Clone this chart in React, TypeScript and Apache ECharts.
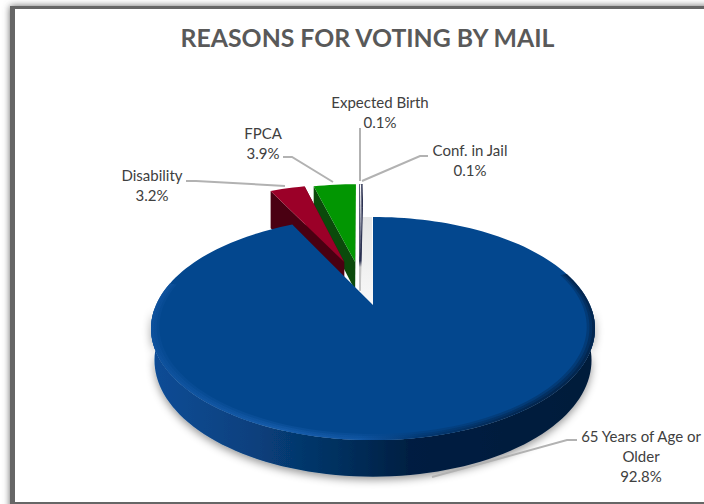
import React, { useEffect, useRef } from "react";
import * as echarts from "echarts";

const TITLE = "REASONS FOR VOTING BY MAIL";
const categories = ["65 Years of Age or Older", "Disability", "FPCA", "Expected Birth", "Conf. in Jail"];
const percents = [92.8, 3.2, 3.9, 0.1, 0.1];

// slice styling, by category order
const topColors = ["#03478e", "#9b0028", "#029602", "#ffffff", "#ffffff"];
const wallColors = ["#021f42", "#4a0012", "#0b4a0b", "#2a3050", "#2a3050"];
const explodeU = [0, -0.145, -0.09, -0.066, -0.064];
const explodeV = [0, 0.44, 0.44, 0.44, 0.44];
const sliceRadius = [1, 1.05, 1.05, 1.05, 1.05];
const wallOuterStretch = [1, 1.55, 1, 1, 1];

// perspective of the disc
const CX = 373, CY = 305, RX = 217, RY = 106.6, K = 0.211, H = 31;
const project = (u: number, v: number, z = 0): number[] => {
  const d = 1 + K * v;
  return [CX + (RX * u) / d, CY - (RY * v - z) / d];
};
const DEG = Math.PI / 180;
const total = percents.reduce((a, b) => a + b, 0);
const starts: number[] = [];
percents.reduce((acc, p, i) => {
  starts[i] = (acc / total) * 360;
  return acc + p;
}, 0);

const arc = (from: number, to: number, r: number, eu: number, ev: number, z = 0) => {
  const steps = Math.max(2, Math.ceil(Math.abs(to - from) / 2));
  const pts: number[][] = [];
  for (let i = 0; i <= steps; i++) {
    const a = (from + ((to - from) * i) / steps) * DEG;
    pts.push(project(eu + r * Math.sin(a), ev + r * Math.cos(a), z));
  }
  return pts;
};

const labelSpecs = [
  { text: "65 Years of Age or\nOlder\n92.8%", x: 641, y: 456 },
  { text: "Disability\n3.2%", x: 152, y: 185 },
  { text: "FPCA\n3.9%", x: 263, y: 143 },
  { text: "Expected Birth\n0.1%", x: 380, y: 112 },
  { text: "Conf. in Jail\n0.1%", x: 470, y: 160 },
];
const leaders = [
  [[577, 440], [567, 440], [432, 477]],
  [[186, 181], [196, 181], [285, 186]],
  [[283, 157], [292, 157], [333, 182]],
  [[360, 128], [360, 181]],
  [[428, 156], [420, 156], [362, 181]],
];

const rimBands = [
  { width: 0.036, opacity: 0.3 },
  { width: 0.024, opacity: 0.4 },
  { width: 0.012, opacity: 0.55 },
];

const renderSlice = (_: any, api: any) => {
  const i = api.value(0) as number;
  const from = starts[i];
  const to = from + (api.value(1) / total) * 360;
  const eu = explodeU[i], ev = explodeV[i], r = sliceRadius[i];
  const children: any[] = [];
  const apexTop = project(eu, ev);
  const apexBot = project(eu, ev, H);
  const top = [apexTop, ...arc(from, to, r, eu, ev)];
  if (i === 0) {
    const sideTop = arc(92, 268, 1, 0, 0);
    const sideBot = arc(92, 268, 0.985, 0, 0, H).reverse();
    const side = new echarts.graphic.LinearGradient(0, 0, 1, 0, [
      { offset: 0, color: "#0a4c96" },
      { offset: 0.22, color: "#08417f" },
      { offset: 0.42, color: "#04305f" },
      { offset: 0.58, color: "#021f42" },
      { offset: 1, color: "#021c3a" },
    ]);
    children.push({
      type: "polygon",
      shape: { points: [...sideTop, ...sideBot] },
      style: { fill: side, shadowBlur: 9, shadowColor: "rgba(0,0,0,0.42)", shadowOffsetY: 3 },
    });
    children.push({ type: "polygon", shape: { points: top }, style: { fill: topColors[i] } });
    rimBands.forEach((b) => {
      const rim = new echarts.graphic.LinearGradient(152, 0, 596, 0, [
        { offset: 0, color: "#0f529e" },
        { offset: 0.3, color: "#1a60b0" },
        { offset: 0.47, color: "#1358a6" },
        { offset: 0.6, color: "#03356c" },
        { offset: 0.85, color: "#021f42" },
        { offset: 1, color: "#021f42" },
      ], true);
      children.push({
        type: "polygon",
        shape: { points: [...arc(72, 282, 1, 0, 0), ...arc(72, 282, 1 - b.width, 0, 0).reverse()] },
        style: { fill: rim, opacity: b.opacity },
      });
    });
  } else {
    const thin = percents[i] < 1;
    const wall = (a: number) => {
      const o = eu + r * Math.sin(a * DEG), p = ev + r * Math.cos(a * DEG);
      const outerTop = project(o, p);
      const fade = new echarts.graphic.LinearGradient(0, outerTop[1], 0, apexBot[1], [
        { offset: 0, color: wallColors[i] },
        { offset: 0.72, color: wallColors[i] },
        { offset: 0.78, color: "#c4c4c4" },
        { offset: 1, color: "#c4c4c4" },
      ], true);
      return {
        type: "polygon",
        shape: { points: [outerTop, project(o, p, H * wallOuterStretch[i]), apexBot, apexTop] },
        style: thin ? { fill: fade, stroke: fade, lineWidth: 1 } : { fill: wallColors[i] },
      };
    };
    children.push(wall(from));
    children.push(wall(to));
    children.push({ type: "polygon", shape: { points: top }, style: { fill: topColors[i] } });
  }
  return { type: "group", children };
};

export default function App() {
  const ref = useRef<HTMLDivElement>(null);
  useEffect(() => {
    const chart = echarts.init(ref.current!, undefined, { renderer: "svg" });
    const textBase = { fontFamily: "Lato", fill: "#404040" };
    chart.setOption({
      animation: false,
      graphic: [
        {
          type: "rect",
          z: 0,
          shape: { x: 10, y: 6, width: 720, height: 520 },
          style: { fill: "#666666", shadowBlur: 7, shadowColor: "#666666" },
        },
        { type: "rect", z: 0, shape: { x: 15, y: 9, width: 720, height: 493 }, style: { fill: "#ffffff" } },
        {
          type: "polygon",
          z: 0,
          shape: { points: [[361, 217], [372, 217], [373, 305], [361, 293]] },
          style: {
            fill: new echarts.graphic.LinearGradient(0, 0, 0, 1, [
              { offset: 0, color: "#e6e6e6" },
              { offset: 1, color: "#f8f8f8" },
            ]),
          },
        },
        {
          type: "text",
          z: 5,
          x: 367.5,
          y: 37,
          style: {
            text: TITLE,
            fontFamily: "Lato",
            fontWeight: "bold",
            fontSize: 24.8,
            fill: "#595959",
            align: "center",
            verticalAlign: "middle",
          },
        },
        ...leaders.map((points) => ({
          type: "polyline",
          z: 5,
          shape: { points },
          style: { stroke: "#b2b2b2", lineWidth: 2, fill: "none" },
        })),
        ...labelSpecs.map((l) => ({
          type: "text",
          z: 5,
          x: l.x,
          y: l.y,
          style: {
            ...textBase,
            text: l.text,
            fontSize: 15,
            lineHeight: 20,
            align: "center",
            verticalAlign: "middle",
          },
        })),
      ],
      series: [
        {
          type: "custom",
          coordinateSystem: "none",
          silent: true,
          renderItem: renderSlice,
          z: 2,
          data: categories.map((_, i) => [i, percents[i]]).reverse(),
        },
      ],
    });
    return () => chart.dispose();
  }, []);
  return <div ref={ref} style={{ position: "fixed", left: 0, top: 0, width: 704, height: 504, background: "#fff" }} />;
}
